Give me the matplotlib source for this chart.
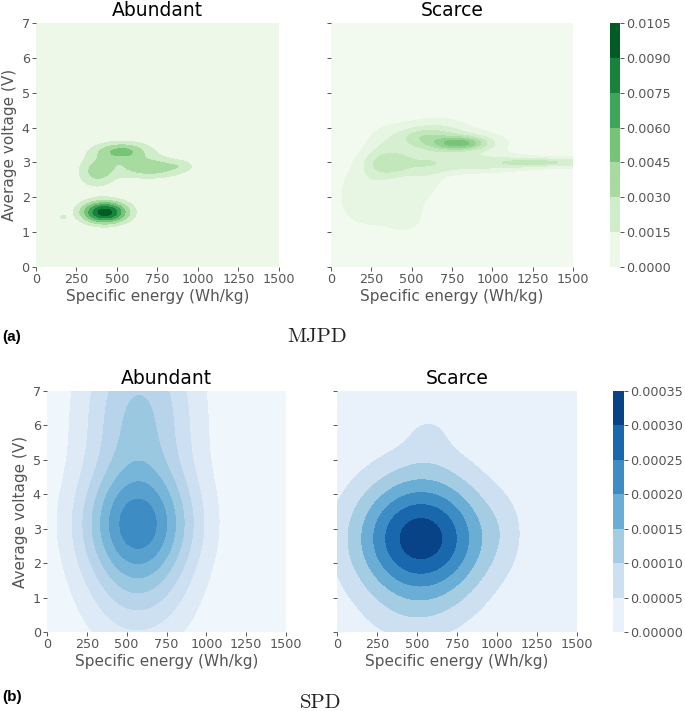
import numpy as np
import matplotlib
matplotlib.use("Agg")
import matplotlib.pyplot as plt
from matplotlib.colors import Normalize

# density bumps: centre x, centre y, spread x, spread y, height
mjpd_abundant_cx = [425, 530, 390, 720, 900, 165, 560, 350]
mjpd_abundant_cy = [1.57, 3.32, 2.78, 2.85, 2.9, 1.43, 3.0, 2.65]
mjpd_abundant_sx = [100, 115, 70, 150, 50, 22, 200, 85]
mjpd_abundant_sy = [0.22, 0.18, 0.28, 0.2, 0.1, 0.06, 0.45, 0.33]
mjpd_abundant_h = [0.0098, 0.0042, 0.002, 0.0034, 0.0009, 0.0016, 0.0009, 0.0013]

mjpd_scarce_cx = [800, 800, 560, 200, 350, 500, 220, 400, 600, 330, 500, 700,
                  350, 600, 900, 1150, 1300, 1550, 110, 450]
mjpd_scarce_cy = [3.55, 3.55, 3.75, 1.7, 1.6, 1.6, 2.5, 2.5, 2.4, 3.4, 3.7, 3.9,
                  2.95, 2.95, 2.95, 2.98, 3.0, 3.0, 2.1, 1.3]
mjpd_scarce_sx = [110, 220, 90, 100, 110, 70, 100, 130, 90, 100, 150, 130,
                  100, 170, 170, 150, 150, 200, 50, 80]
mjpd_scarce_sy = [0.12, 0.28, 0.17, 0.55, 0.55, 0.4, 0.6, 0.6, 0.45, 0.5, 0.45, 0.35,
                  0.25, 0.24, 0.2, 0.16, 0.07, 0.16, 0.5, 0.25]
mjpd_scarce_h = [0.0030, 0.0018, 0.0010, 0.0007, 0.0005, 0.0006, 0.0007, 0.0005, 0.0008,
                 0.0008, 0.0008, 0.0010, 0.0014, 0.0013, 0.0013, 0.0012, 0.0013, 0.0014, 0.0005, 0.0005]

spd_abundant_cx = [570, 570, 577]
spd_abundant_cy = [3.2, 1.5, 6.2]
spd_abundant_sx = [250, 250, 255]
spd_abundant_sy = [1.1, 1.45, 2.2]
spd_abundant_h = [0.000138, 0.000090, 0.000125]

spd_scarce_cx = [525, 575, 560, 1050, 480]
spd_scarce_cy = [2.72, 5.9, 5.0, 3.0, 0.3]
spd_scarce_sx = [295, 120, 200, 100, 250]
spd_scarce_sy = [1.3, 0.5, 0.6, 0.8, 0.8]
spd_scarce_h = [0.00033, 0.000035, 0.000015, 0.000018, 0.00003]

mjpd_abundant_levels = [0, 0.0015, 0.003, 0.0045, 0.006, 0.0075, 0.009, 0.0105]
mjpd_scarce_levels = [0, 0.0008, 0.0016, 0.0024, 0.0032, 0.004, 0.0048, 0.0056, 0.0064]
spd_abundant_levels = [0, 0.00003, 0.00006, 0.00009, 0.00012, 0.00015, 0.00018, 0.00021, 0.00024]
spd_scarce_levels = [0, 0.00005, 0.0001, 0.00015, 0.0002, 0.00025, 0.0003, 0.00035]

x_ticks = [0, 250, 500, 750, 1000, 1250, 1500]
y_ticks = [0, 1, 2, 3, 4, 5, 6, 7]

W = 685
H = 711
GREY = "#555555"

xs = np.linspace(0, 1500, 400)
ys = np.linspace(0, 7, 400)
xx, yy = np.meshgrid(xs, ys)


def density(cx, cy, sx, sy, h):
    z = np.zeros_like(xx)
    for i in range(len(cx)):
        z += h[i] * np.exp(-(xx - cx[i]) ** 2 / (2 * sx[i] ** 2) - (yy - cy[i]) ** 2 / (2 * sy[i] ** 2))
    return z


def box(left, top, right, bottom):
    return fig.add_axes([left / W, 1 - bottom / H, (right - left) / W, (bottom - top) / H])


def panel(rect, z, levels, cmap, norm, title, show_y):
    ax = box(*rect)
    cs = ax.contourf(xx, yy, z, levels=levels, cmap=cmap, norm=norm)
    ax.set_xlim(0, 1500)
    ax.set_ylim(0, 7)
    ax.set_xticks(x_ticks)
    ax.set_yticks(y_ticks)
    ax.tick_params(colors=GREY, labelsize=9.2, length=3, width=0.7, pad=1.5)
    ax.set_xlabel("Specific energy (Wh/kg)", color=GREY, fontsize=11, labelpad=2)
    if show_y:
        ax.set_ylabel("Average voltage (V)", color=GREY, fontsize=11, labelpad=3)
    else:
        ax.tick_params(labelleft=False)
    ax.set_title(title, fontsize=13.5, color="black", pad=5)
    for s in ax.spines.values():
        s.set_visible(False)
    return cs


def colorbar(cs, rect, labels_fmt):
    cax = box(*rect)
    cb = fig.colorbar(cs, cax=cax)
    cb.outline.set_visible(False)
    cb.set_ticks(cs.levels)
    cb.set_ticklabels([labels_fmt % v for v in cs.levels])
    cb.ax.tick_params(colors=GREY, labelsize=9.2, length=3, width=0.7, pad=1.5)


fig = plt.figure(figsize=(W / 100, H / 100), dpi=100)

green_norm = Normalize(0, 0.0105)
blue_norm = Normalize(0, 0.00035)

z1 = density(mjpd_abundant_cx, mjpd_abundant_cy, mjpd_abundant_sx, mjpd_abundant_sy, mjpd_abundant_h)
z2 = density(mjpd_scarce_cx, mjpd_scarce_cy, mjpd_scarce_sx, mjpd_scarce_sy, mjpd_scarce_h)
z3 = density(spd_abundant_cx, spd_abundant_cy, spd_abundant_sx, spd_abundant_sy, spd_abundant_h)
z4 = density(spd_scarce_cx, spd_scarce_cy, spd_scarce_sx, spd_scarce_sy, spd_scarce_h)

cs1 = panel((36, 23, 279, 267), z1, mjpd_abundant_levels, "Greens", green_norm, "Abundant", True)
panel((331, 23, 573, 267), z2, mjpd_scarce_levels, "Greens", green_norm, "Scarce", False)
panel((47, 391, 286, 632), z3, spd_abundant_levels, "Blues", blue_norm, "Abundant", True)
cs4 = panel((337, 391, 577, 632), z4, spd_scarce_levels, "Blues", blue_norm, "Scarce", False)

colorbar(cs1, (610, 23, 620, 267), "%.4f")
colorbar(cs4, (613, 391, 624, 632), "%.5f")

fig.text(2 / W, 1 - 337 / H, "(a)", fontsize=11, fontweight="bold", family="Liberation Sans", va="center")
fig.text(2 / W, 1 - 697 / H, "(b)", fontsize=11, fontweight="bold", family="Liberation Sans", va="center")
fig.text(317 / W, 1 - 337 / H, "MJPD", fontsize=15, family="cmr10", ha="center", va="center", color="#222222")
fig.text(321 / W, 1 - 703 / H, "SPD", fontsize=15, family="cmr10", ha="center", va="center", color="#222222")

fig.savefig("out.png", dpi=100)
